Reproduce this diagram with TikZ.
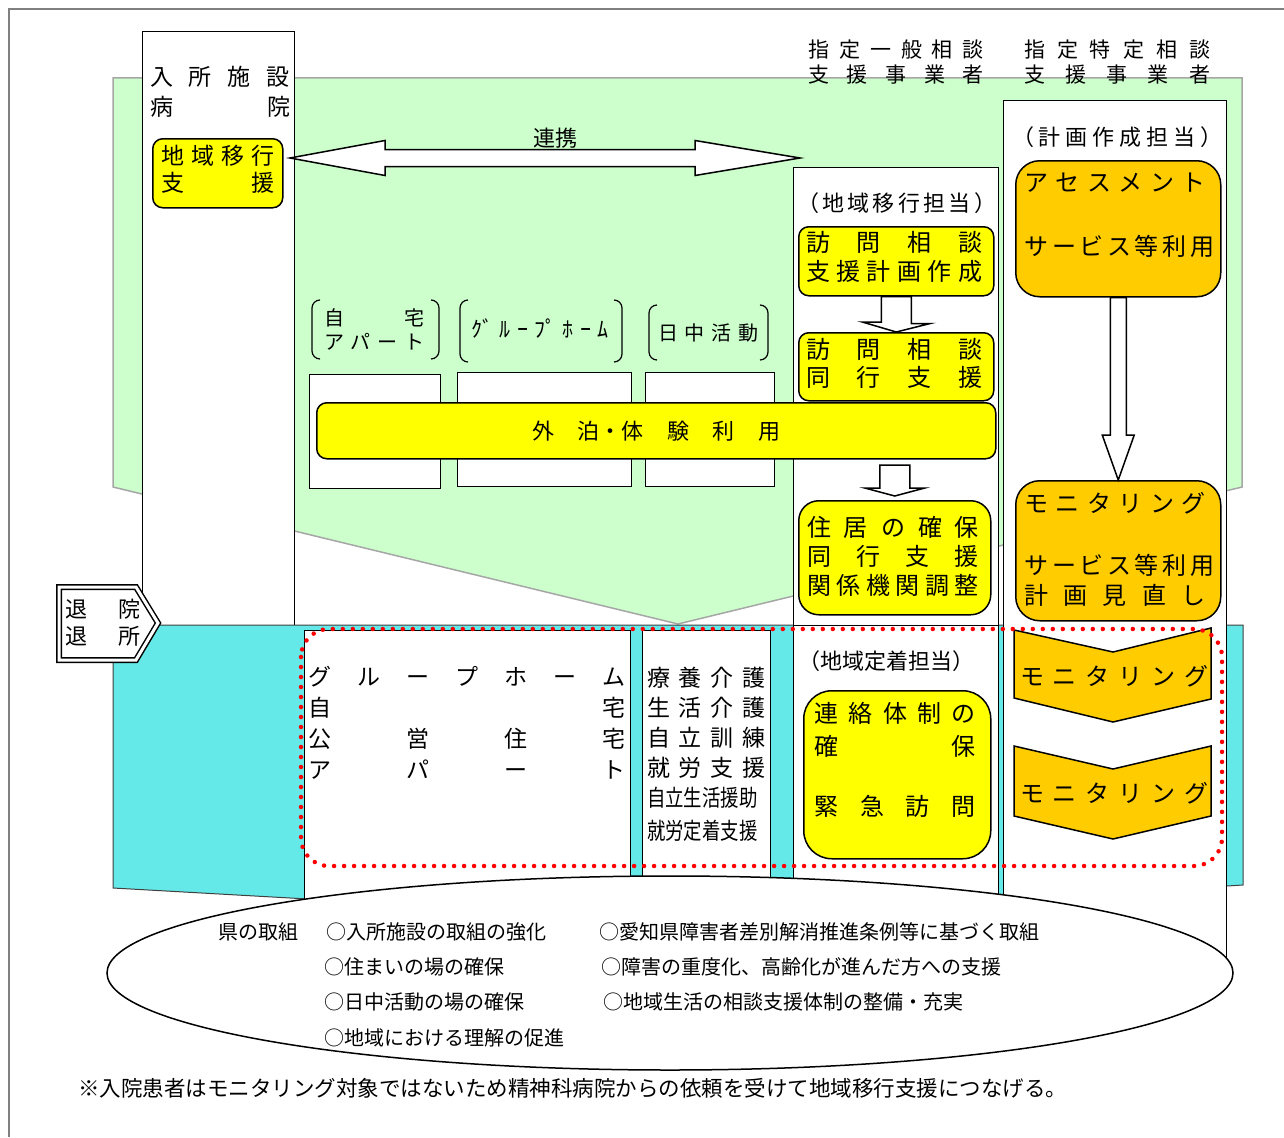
\documentclass[tikz,border=0pt]{standalone}
\usepackage{fontspec}
\usepackage{graphicx}
\setmainfont{Noto Sans CJK JP}
\usetikzlibrary{calc}

\definecolor{fieldgreen}{HTML}{CCFFCC}
\definecolor{bandcyan}{RGB}{100,232,232}
\definecolor{boxyellow}{HTML}{FFFF00}
\definecolor{boxorange}{HTML}{FFCC00}

\newcommand\spreadtext[2]{\makebox[#1pt][s]{#2}}
\newcommand\setfs[2]{\fontsize{#1}{#2}\selectfont}

\begin{document}
\begin{tikzpicture}[x=1pt,y=-1pt,
  colbox/.style={draw=black, line width=1.3pt, fill=white},
  nw/.style={anchor=north west, inner sep=0pt},
  ybox/.style={draw=black, line width=1.5pt, fill=boxyellow, rounded corners=10pt},
  obox/.style={draw=black, line width=1.5pt, fill=boxorange, rounded corners=24pt},
  hollow/.style={draw=black, line width=1.5pt, fill=white, line join=miter},
  monshape/.style={draw=black, line width=1.5pt, fill=boxorange},
  bracket/.style={line width=1.2pt, rounded corners=8pt},
  lbl/.style={inner sep=0pt, align=center, font=\setfs{23}{28}},
  item/.style={anchor=west, inner sep=0pt, font=\setfs{20}{24}}]
\useasboundingbox (0,0) rectangle (1284,1137);

% outer frame and green field
\draw[gray, line width=1.5pt] (9,1137) -- (9,9) -- (1284,9);
\draw[draw=gray!70, line width=1.5pt, fill=fieldgreen] (113,78) -- (1242,78) -- (1242,487) -- (678,624) -- (113,487) -- cycle;

\node[colbox, nw, minimum width=152pt, minimum height=594pt] (facility) at (142,31) {};

% cyan band
\draw[draw=black!75, line width=1pt, fill=bandcyan] (113,625) -- (1243,625) -- (1243,885) -- (680,920) -- (113,888) -- cycle;

% columns
\node[colbox, nw, minimum width=223pt, minimum height=858pt] (plancol) at (1003,100) {};
\node[colbox, nw, minimum width=205pt, minimum height=458pt] (migcol) at (793,167) {};
\node[colbox, nw, minimum width=205pt, minimum height=290pt] (settlecol) at (793,625) {};
\node[colbox, nw, minimum width=326pt, minimum height=285pt] (ghlow) at (304,630) {};
\node[colbox, nw, minimum width=128pt, minimum height=285pt] (carebox) at (642,630) {};

% places to live and work
\node[colbox, nw, minimum width=131pt, minimum height=114pt] (homebox) at (309,374) {};
\node[colbox, nw, minimum width=174pt, minimum height=114pt] (ghbox) at (457,372) {};
\node[colbox, nw, minimum width=129pt, minimum height=114pt] (daybox) at (645,372) {};

\draw[bracket] (320,300) -- (312,300) -- (312,359) -- (320,359);
\draw[bracket] (431,300) -- (439,300) -- (439,359) -- (431,359);
\draw[bracket] (468,300) -- (460,300) -- (460,362) -- (468,362);
\draw[bracket] (614,300) -- (622,300) -- (622,362) -- (614,362);
\draw[bracket] (657,305) -- (649,305) -- (649,360) -- (657,360);
\draw[bracket] (760,305) -- (768,305) -- (768,360) -- (760,360);

\node[ybox, nw, minimum width=679pt, minimum height=56pt, font=\setfs{22}{26}] (stay) at (316,402) {\spreadtext{248}{外 泊・体 験 利 用}};

% support boxes
\node[ybox, nw, minimum width=130pt, minimum height=69pt] (transit) at (152,138) {};
\node[ybox, nw, minimum width=195pt, minimum height=69pt] (plan) at (798,226) {};
\node[ybox, nw, minimum width=195pt, minimum height=68pt] (visit) at (798,332) {};
\node[ybox, nw, minimum width=192pt, minimum height=114pt, rounded corners=20pt] (housing) at (798,500) {};
\node[ybox, nw, minimum width=187pt, minimum height=168pt, rounded corners=28pt] (urgent) at (803,690) {};
\node[obox, nw, minimum width=205pt, minimum height=136pt] (assess) at (1015,160) {};
\node[obox, nw, minimum width=205pt, minimum height=140pt] (monitor) at (1015,480) {};

% block arrows
\coordinate (linkL) at (290,158);
\coordinate (linkR) at (800,158);
\draw[hollow] (linkL) -- ++(95,-17.5) -- ++(0,9) -- ($(linkR)+(-105,-8.5)$) -- ++(0,-9) -- (linkR) -- ++(-105,17.5) -- ++(0,-9) -- ($(linkL)+(95,8.5)$) -- ++(0,9) -- cycle;
\draw[hollow] ([xshift=-15pt]plan.south) -- ++(30,0) -- ++(0,27) -- ++(19,0) -- (plan.south |- visit.north) -- ++(-34,-10) -- ++(19,0) -- cycle;
\draw[hollow] ($(housing.north)+(-15,-35)$) -- ++(30,0) -- ++(0,23) -- ++(15,0) -- ($(housing.north)+(0,-4)$) -- ++(-30,-8) -- ++(15,0) -- cycle;
\draw[hollow] ([xshift=-8pt]assess.south) -- ++(16,0) -- ($(monitor.north)+(8,-45)$) -- ++(8,0) -- (monitor.north) -- ++(-16,-45) -- ++(8,0) -- cycle;

% monitoring chevrons
\draw[monshape] (1014,630) -- (1113,652) -- (1211,628) -- (1211,699) -- (1113,722) -- (1014,698) -- cycle;
\draw[monshape] (1014,746) -- (1113,769) -- (1211,746) -- (1211,816) -- (1113,839) -- (1014,816) -- cycle;

\draw[red, line width=4.5pt, line cap=round, dash pattern=on 0pt off 10pt, rounded corners=28pt] (301,629) rectangle (1222,866);

% discharge
\draw[double, double distance=3pt, line width=1.5pt, fill=white] (59,587) -- (136,587) -- (158,623) -- (136,660) -- (59,660) -- cycle;

% texts
\node[lbl, font=\setfs{23}{30}] (facname) at (220,92) {\spreadtext{140}{入 所 施 設}\\\spreadtext{140}{病 院}};
\node[lbl, font=\setfs{23}{27}] (transittext) at (218,169) {\spreadtext{113}{地 域 移 行}\\\spreadtext{113}{支 援}};
\node[lbl, font=\setfs{22}{26}] (linktext) at (555,138) {連携};
\node[lbl, font=\setfs{21}{25}] (gencons) at (896,62) {\spreadtext{176}{指 定 一 般 相 談}\\\spreadtext{176}{支 援 事 業 者}};
\node[lbl, font=\setfs{21}{25}] (spccons) at (1117,62) {\spreadtext{186}{指 定 特 定 相 談}\\\spreadtext{186}{支 援 事 業 者}};
\node[lbl, font=\setfs{22}{26}] (planhead) at (1117,137) {\spreadtext{210}{（ 計 画 作 成 担 当 ）}};
\node[lbl, font=\setfs{22}{26}] (mighead) at (895,203) {\spreadtext{196}{（ 地 域 移 行 担 当 ）}};
\node[lbl, font=\setfs{24}{29}] (plantext) at (894,257) {\spreadtext{176}{訪 問 相 談}\\\spreadtext{176}{支 援 計 画 作 成}};
\node[lbl, font=\setfs{24}{28}] (visittext) at (894,363) {\spreadtext{176}{訪 問 相 談}\\\spreadtext{176}{同 行 支 援}};
\node[lbl, font=\setfs{24}{29}] (housingtext) at (893,556) {\spreadtext{172}{住 居 の 確 保}\\\spreadtext{172}{同 行 支 援}\\\spreadtext{172}{関 係 機 関 調 整}};
\node[lbl, font=\setfs{24}{28}] (assesstext) at (1115,215) {\spreadtext{181}{ア セ ス メ ン ト}\\[36pt]\spreadtext{181}{サ ー ビ ス 等 利 用}};
\node[lbl, font=\setfs{24}{30}] (monitortext) at (1115,549) {\spreadtext{181}{モ ニ タ リ ン グ}\\[32pt]\spreadtext{181}{サ ー ビ ス 等 利 用}\\\spreadtext{181}{計 画 見 直 し}};
\node[lbl, font=\setfs{20}{24}] (homelbl) at (374,329) {\spreadtext{100}{自 宅}\\\spreadtext{100}{ア パ ー ト}};
\node[lbl, font=\setfs{22}{26}] (ghlbl) at (540,329) {\spreadtext{137}{ｸﾞ ﾙ ｰ ﾌﾟ ﾎ ｰ ﾑ}};
\node[lbl, font=\setfs{20}{24}] (daylbl) at (708,333) {\spreadtext{100}{日 中 活 動}};
\node[lbl, font=\setfs{22}{27}] (dischargetext) at (103,623) {\spreadtext{76}{退 院}\\\spreadtext{76}{退 所}};
\node[lbl, font=\setfs{23}{31}] (ghtext) at (467,723) {\spreadtext{317}{グ ル ー プ ホ ー ム}\\\spreadtext{317}{自 宅}\\\spreadtext{317}{公 営 住 宅}\\\spreadtext{317}{ア パ ー ト}};
\node[lbl, align=left, font=\setfs{23}{30}] (caretext) at (706,754) {\spreadtext{118}{療 養 介 護}\\\spreadtext{118}{生 活 介 護}\\\spreadtext{118}{自 立 訓 練}\\\spreadtext{118}{就 労 支 援}\\\scalebox{0.8}[1]{自立生活援助}\\[3pt]\scalebox{0.8}[1]{就労定着支援}};
\node[lbl, font=\setfs{22}{26}] (settlehead) at (886,661) {（地域定着担当）};
\node[lbl, font=\setfs{24}{33}] (urgenttext) at (895,760) {\spreadtext{161}{連 絡 体 制 の}\\\spreadtext{161}{確 保}\\[27pt]\spreadtext{161}{緊 急 訪 問}};
\node[lbl, font=\setfs{24}{28}] (mon1text) at (1114,676) {\spreadtext{188}{モ ニ タ リ ン グ}};
\node[lbl, font=\setfs{24}{28}] (mon2text) at (1114,793) {\spreadtext{188}{モ ニ タ リ ン グ}};

% prefecture measures
\draw[line width=1.5pt, fill=white] (670,973) ellipse [x radius=563pt, y radius=97pt];
\node[item] (pref) at (218,932) {県の取組};
\node[item] (measA) at (326,932) {○入所施設の取組の強化};
\node[item] (measB) at (324,967) {○住まいの場の確保};
\node[item] (measC) at (324,1002) {○日中活動の場の確保};
\node[item] (measD) at (324,1038) {○地域における理解の促進};
\node[item] (measE) at (599,932) {○愛知県障害者差別解消推進条例等に基づく取組};
\node[item] (measF) at (601,967) {○障害の重度化、高齢化が進んだ方への支援};
\node[item] (measG) at (603,1002) {○地域生活の相談支援体制の整備・充実};

\node[item, font=\setfs{21.5}{26}] (note) at (78,1088) {※入院患者はモニタリング対象ではないため精神科病院からの依頼を受けて地域移行支援につなげる。};
\end{tikzpicture}
\end{document}
